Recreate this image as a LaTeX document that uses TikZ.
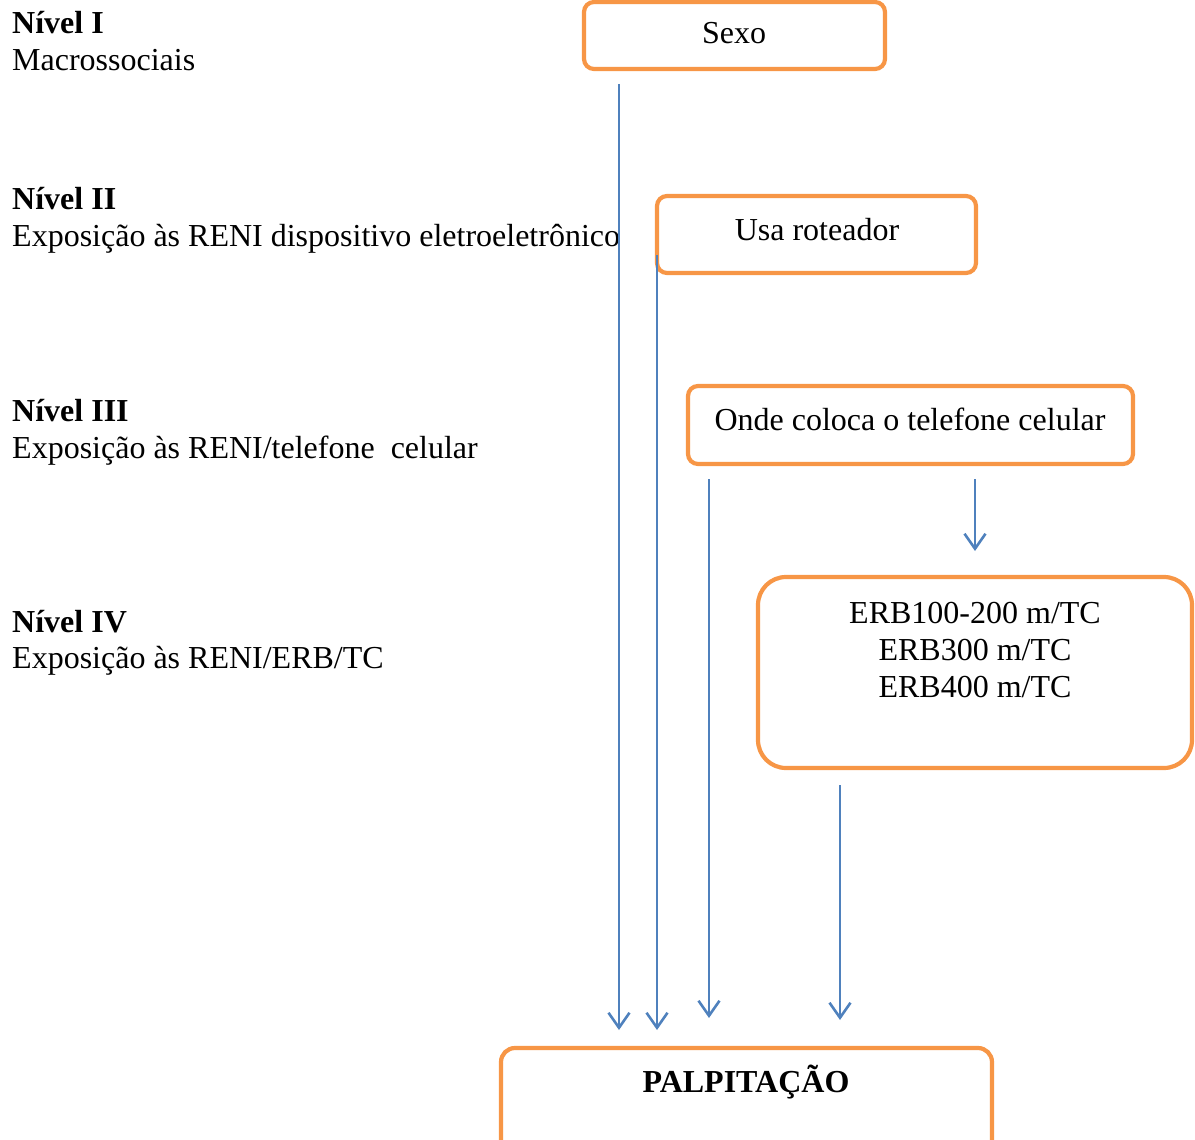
\documentclass[tikz,border=0pt]{standalone}
\usepackage{fontspec}
\setmainfont{Liberation Serif}
\usetikzlibrary{arrows.meta}
\definecolor{boxorange}{HTML}{F79646}
\definecolor{arrowblue}{HTML}{4F81BD}
\begin{document}
\begin{tikzpicture}[x=1pt,y=-1pt,
  every node/.style={font=\fontsize{32}{37}\selectfont, inner sep=0pt},
  box/.style={draw=boxorange, line width=4.2pt, rounded corners=10pt, fill=white},
  lbl/.style={anchor=base west},
  txt/.style={anchor=base},
  flow/.style={draw=arrowblue, line width=2.6pt,
    -{Straight Barb[length=15pt,width=21pt,line width=2.6pt]}}]
\useasboundingbox (0,0) rectangle (1195,1140);
\clip (0,0) rectangle (1195,1140);

% level captions on the left
\node[lbl] (n1) at (12,34) {\textbf{Nível I}};
\node[lbl] (n1d) at (12,71) {Macrossociais};
\node[lbl] (n2) at (12,209) {\textbf{Nível II}};
\node[lbl] (n2d) at (12,246) {Exposição às RENI dispositivo eletroeletrônico};
\node[lbl] (n3) at (12,421) {\textbf{Nível III}};
\node[lbl] (n3d) at (12,458) {Exposição às RENI/telefone\ \ celular};
\node[lbl] (n4) at (12,632) {\textbf{Nível IV}};
\node[lbl] (n4d) at (12,668) {Exposição às RENI/ERB/TC};

% boxes
\node[box, minimum width=301pt, minimum height=67pt] (sexo) at (734.5,35.5) {};
\node[txt] (sexot) at (734,44) {Sexo};
\node[box, minimum width=319pt, minimum height=77pt] (rot) at (816.5,234.5) {};
\node[txt] (rott) at (817,240) {Usa roteador};
\node[box, minimum width=445pt, minimum height=78pt] (cel) at (910.5,425) {};
\node[txt] (celt) at (910,430) {Onde coloca o telefone celular};
\node[box, rounded corners=28pt, minimum width=434pt, minimum height=191pt] (erb) at (975,672.5) {};
\node[txt] (erbt1) at (975,623) {ERB100-200 m/TC};
\node[txt] (erbt2) at (975,660) {ERB300 m/TC};
\node[txt] (erbt3) at (975,697) {ERB400 m/TC};
\node[box, rounded corners=14pt, minimum width=491pt, minimum height=110pt] (palp) at (746.5,1103) {};
\node[txt] (palpt) at (746,1092) {\textbf{PALPITAÇÃO}};

% arrow end points
\coordinate (a1s) at (619,84);   \coordinate (a1e) at (619,1030);
\coordinate (a2s) at (657,255);  \coordinate (a2e) at (657,1030);
\coordinate (a3s) at (709,479);  \coordinate (a3e) at (709,1018);
\coordinate (a4s) at (975,479);  \coordinate (a4e) at (975,551);
\coordinate (a5s) at (840,785);  \coordinate (a5e) at (840,1020);

\draw[flow] (a1s) -- (a1e);
\draw[flow] (a2s) -- (a2e);
\draw[flow] (a3s) -- (a3e);
\draw[flow] (a4s) -- (a4e);
\draw[flow] (a5s) -- (a5e);
\end{tikzpicture}
\end{document}
